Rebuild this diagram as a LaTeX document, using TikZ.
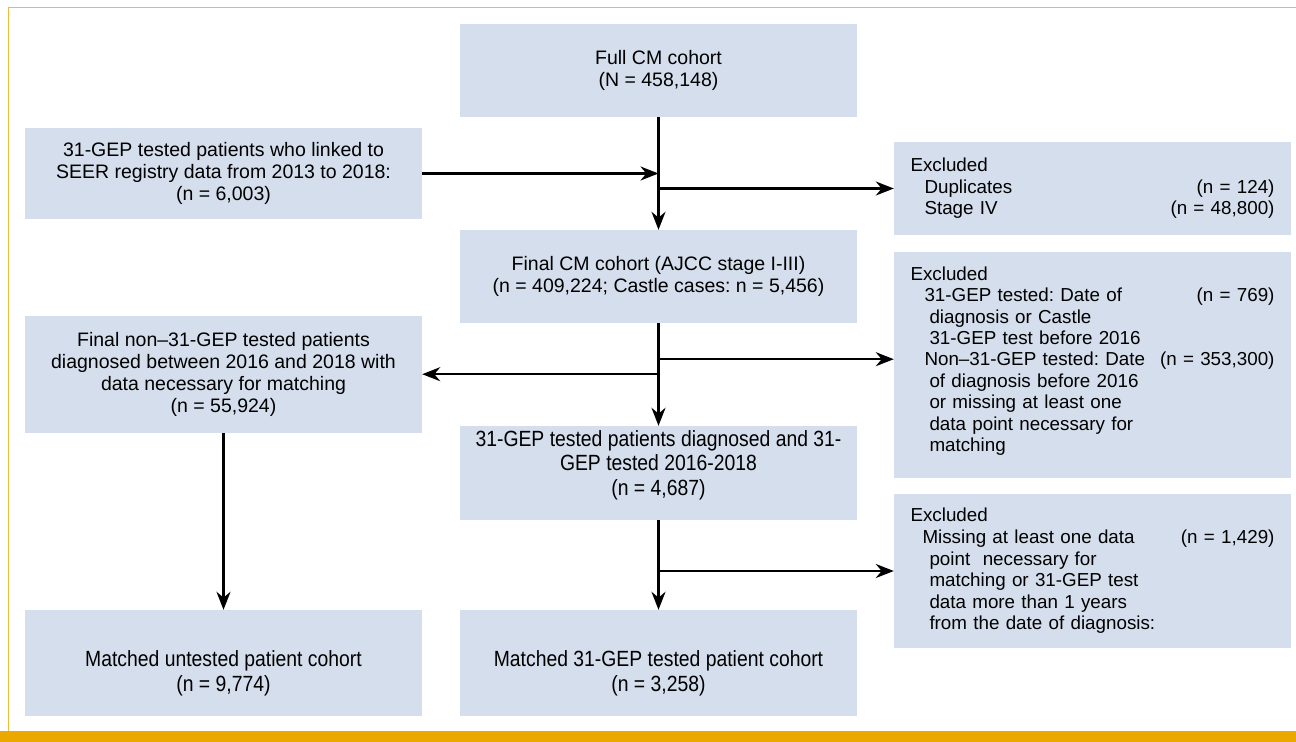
\documentclass[tikz,border=0pt]{standalone}
\usepackage{fontspec}
\setmainfont{Liberation Sans}
\newfontfamily\narrowfont[FakeStretch=0.88]{Liberation Sans}
\usetikzlibrary{arrows.meta}
\definecolor{boxfill}{HTML}{D5DEEC}
\definecolor{frameline}{HTML}{F0BC3C}
\definecolor{framebar}{HTML}{EBA800}
\newlength\exw
\setlength\exw{364bp}
\newcommand\exline[3]{\makebox[\exw][l]{\hspace*{#1}#2}\llap{#3}}
\newcommand\exind[1]{\hspace*{19bp}#1}
\tikzset{
  box/.style={fill=boxfill, inner sep=0pt, minimum width=397bp, align=center,
    font=\frenchspacing\fontsize{19.5bp}{22bp}\selectfont},
  nbox/.style={box, font=\frenchspacing\narrowfont\fontsize{22bp}{24.5bp}\selectfont},
  exbox/.style={box, align=left, text width=\exw,
    font=\frenchspacing\fontsize{18.8bp}{21.6bp}\selectfont},
  flow/.style={line width=2.4bp, -{Stealth[length=18bp,width=14bp]}}
}
\begin{document}
\begin{tikzpicture}[x=1bp,y=-1bp]
\useasboundingbox (0,0) rectangle (1296,742);
\fill[framebar] (0,731) rectangle (1296,742);
\draw[frameline, line width=1.6bp] (8.5,731) -- (8.5,7.5) -- (1296,7.5);

\node[box, minimum height=93bp] (full) at (658.5,70.5) {Full CM cohort\\(N = 458,148)};
\node[box, minimum height=91bp] (linked) at (223.5,173.5)
  {31-GEP tested patients who linked to\\SEER registry data from 2013 to 2018:\\(n = 6,003)};
\node[exbox, minimum height=93bp] (ex1) at (1092.5,188.5)
  {Excluded\\
   \exline{14bp}{Duplicates}{(n = 124)}\\
   \exline{14bp}{Stage IV}{(n = 48,800)}};
\node[box, minimum height=93bp] (final) at (658.5,276.5)
  {Final CM cohort (AJCC stage I-III)\\(n = 409,224; Castle cases: n = 5,456)};
\node[exbox, minimum height=226bp, font=\frenchspacing\fontsize{18.8bp}{21.4bp}\selectfont] (ex2) at (1092.5,365)
  {Excluded\\
   \exline{14bp}{31-GEP tested: Date of}{(n = 769)}\\
   \exind{diagnosis or Castle}\\
   \exind{31-GEP test before 2016}\\
   \exline{14bp}{Non–31-GEP tested: Date}{(n = 353,300)}\\
   \exind{of diagnosis before 2016}\\
   \exind{or missing at least one}\\
   \exind{data point necessary for}\\
   \exind{matching}\\[-9.4bp]\mbox{}};
\node[box, minimum height=117bp] (nontest) at (223.5,374.5)
  {Final non–31-GEP tested patients\\diagnosed between 2016 and 2018 with\\data necessary for matching\\(n = 55,924)};
\node[nbox, minimum height=94bp] (diag) at (658.5,473)
  {31-GEP tested patients diagnosed and 31-\\GEP tested 2016-2018\\(n = 4,687)\\[-4.5bp]\mbox{}};
\node[exbox, minimum height=154bp] (ex3) at (1092.5,571)
  {Excluded\\
   \exline{12bp}{Missing at least one data}{(n = 1,429)}\\
   \exind{point\ \ necessary for}\\
   \exind{matching or 31-GEP test}\\
   \exind{data more than 1 years}\\
   \exind{from the date of diagnosis:}};
\node[nbox, minimum height=106bp] (m1) at (223.5,663)
  {\mbox{}\\[12bp]Matched untested patient cohort\\(n = 9,774)};
\node[nbox, minimum height=106bp] (m2) at (658.5,663)
  {\mbox{}\\[12bp]Matched 31-GEP tested patient cohort\\(n = 3,258)};

\coordinate (j1) at (full.south |- linked.east);
\coordinate (j2) at (full.south |- ex1.west);
\coordinate (j3) at ([yshift=-36bp]final.south);
\coordinate (j4) at ([yshift=-51bp]final.south);
\coordinate (j5) at (diag.south |- ex3.west);

\draw[flow] (full.south) -- (final.north);
\draw[flow] (linked.east) -- (j1);
\draw[flow] (j2) -- (ex1.west);
\draw[flow] (final.south) -- (diag.north);
\draw[flow] (j3) -- (j3 -| ex2.west);
\draw[flow] (j4) -- (j4 -| nontest.east);
\draw[flow] (diag.south) -- (m2.north);
\draw[flow] (j5) -- (ex3.west);
\draw[flow] (nontest.south) -- (m1.north);
\end{tikzpicture}
\end{document}
